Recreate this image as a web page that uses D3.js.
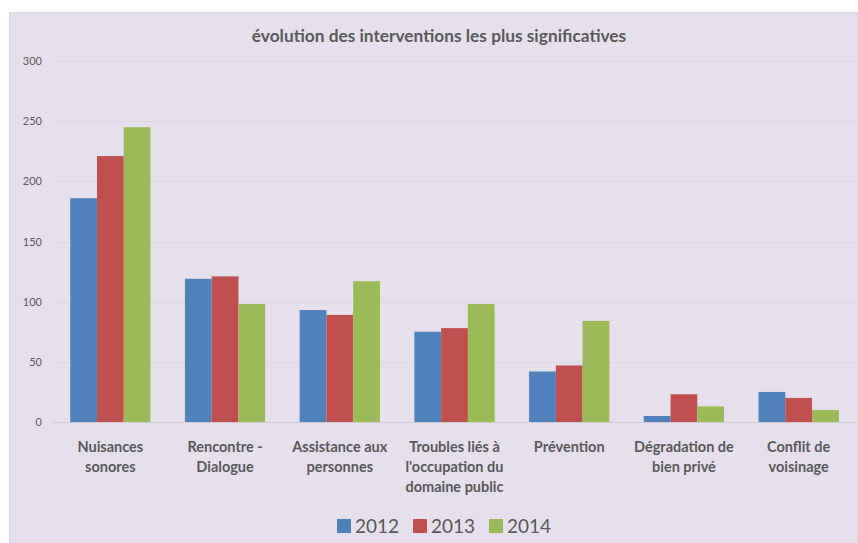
<!DOCTYPE html>
<html>
<head>
<meta charset="utf-8">
<script src="https://cdn.jsdelivr.net/npm/d3@7"></script>
<style>
  body { margin: 0; background: #fff; }
  svg { display: block; }
  text { font-family: Lato, "Open Sans", sans-serif; }
</style>
</head>
<body>
<svg id="chart"></svg>
<script>
const categories = [
  ["Nuisances", "sonores"],
  ["Rencontre -", "Dialogue"],
  ["Assistance aux", "personnes"],
  ["Troubles liés à", "l'occupation du", "domaine public"],
  ["Prévention"],
  ["Dégradation de", "bien privé"],
  ["Conflit de", "voisinage"]
];
const years = ["2012", "2013", "2014"];
const values2012 = [186, 119, 93, 75, 42, 5, 25];
const values2013 = [221, 121, 89, 78, 47, 23, 20];
const values2014 = [245, 98, 117, 98, 84, 13, 10];
const yTicks = [0, 50, 100, 150, 200, 250, 300];

const series = [values2012, values2013, values2014];
const colors = ["#4f81bd", "#c0504d", "#9bbb59"];

const width = 858;
const height = 543;
const margin = { top: 61, right: 2, bottom: 121, left: 53 };

const svg = d3.select("#chart")
  .attr("width", width)
  .attr("height", height);

// chart area background
svg.append("rect")
  .attr("x", 9.5)
  .attr("y", 12.5)
  .attr("width", width - 10)
  .attr("height", height - 12)
  .attr("fill", "#e5e0ec")
  .attr("stroke", "#d9d9d9");

svg.append("text")
  .attr("x", 439)
  .attr("y", 42)
  .attr("text-anchor", "middle")
  .attr("font-size", 17.3)
  .attr("font-weight", "bold")
  .attr("fill", "#595959")
  .text("évolution des interventions les plus significatives");

const x = d3.scaleBand()
  .domain(d3.range(categories.length))
  .range([margin.left, width - margin.right])
  .paddingInner(0.3)
  .paddingOuter(0.15);

const xInner = d3.scaleBand()
  .domain(d3.range(years.length))
  .range([0, x.bandwidth()]);

const y = d3.scaleLinear()
  .domain([0, 300])
  .range([height - margin.bottom, margin.top]);

// gridlines
svg.append("g")
  .selectAll("line")
  .data(yTicks)
  .join("line")
  .attr("x1", margin.left)
  .attr("x2", width - margin.right)
  .attr("y1", d => Math.round(y(d)) + 0.5)
  .attr("y2", d => Math.round(y(d)) + 0.5)
  .attr("stroke", d => d === 0 ? "#d0ccd6" : "#dcd7e1")
  .attr("stroke-width", 1);

// y labels
svg.append("g")
  .selectAll("text")
  .data(yTicks)
  .join("text")
  .attr("x", 42)
  .attr("y", d => y(d) + 4)
  .attr("text-anchor", "end")
  .attr("font-size", 11)
  .attr("fill", "#595959")
  .text(d => d);

// bars
const groups = svg.append("g")
  .selectAll("g")
  .data(categories.map((c, i) => i))
  .join("g")
  .attr("transform", i => `translate(${x(i)},0)`);

groups.selectAll("rect")
  .data(i => series.map((s, k) => ({ k, v: s[i] })))
  .join("rect")
  .attr("x", d => xInner(d.k))
  .attr("y", d => y(d.v))
  .attr("width", xInner.bandwidth())
  .attr("height", d => y(0) - y(d.v))
  .attr("fill", d => colors[d.k]);

// category labels
const labels = svg.append("g")
  .selectAll("text")
  .data(categories)
  .join("text")
  .attr("x", (d, i) => x(i) + x.bandwidth() / 2)
  .attr("y", 452)
  .attr("text-anchor", "middle")
  .attr("font-size", 14.5)
  .attr("font-weight", "bold")
  .attr("fill", "#595959");

labels.selectAll("tspan")
  .data(d => d)
  .join("tspan")
  .attr("x", function () { return this.parentNode.getAttribute("x"); })
  .attr("dy", (d, i) => i === 0 ? 0 : 20)
  .text(d => d);

// legend
const legendX = d3.scalePoint()
  .domain(years)
  .range([337, 489]);

const legend = svg.append("g")
  .selectAll("g")
  .data(years)
  .join("g")
  .attr("transform", d => `translate(${legendX(d)},519)`);

legend.append("rect")
  .attr("width", 14)
  .attr("height", 14)
  .attr("fill", (d, i) => colors[i]);

legend.append("text")
  .attr("x", 18)
  .attr("y", 14)
  .attr("font-size", 19)
  .attr("fill", "#595959")
  .text(d => d);
</script>
</body>
</html>
